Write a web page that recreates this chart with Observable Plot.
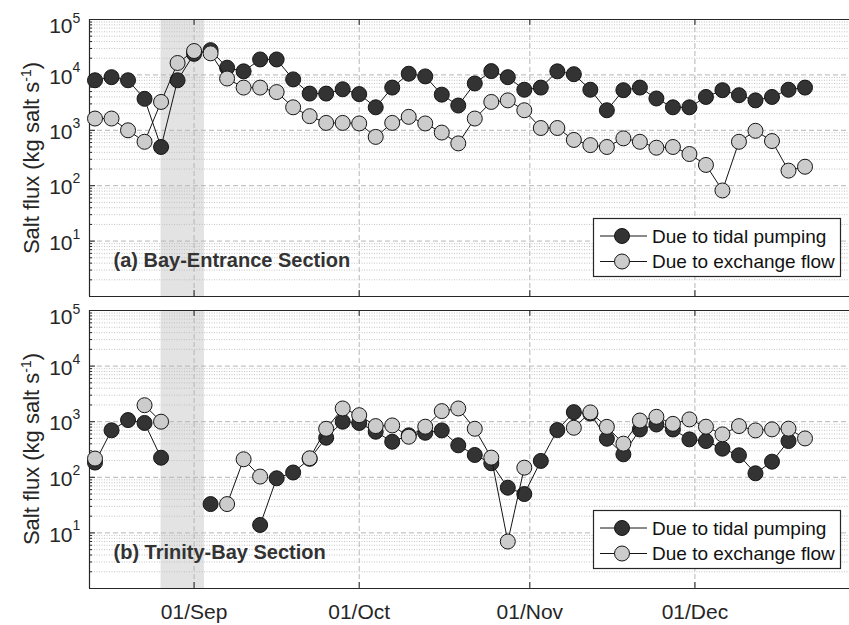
<!DOCTYPE html>
<html><head><meta charset="utf-8">
<script src="https://cdn.jsdelivr.net/npm/d3@7"></script>
<script src="https://cdn.jsdelivr.net/npm/@observablehq/plot@0.6"></script>
<style>
body{margin:0;background:#fff;}
#chart svg{display:block;}
</style></head><body><div id="chart"></div>
<script>
// ---- data ----
const dates = ["2017-08-14","2017-08-17","2017-08-20","2017-08-23","2017-08-26","2017-08-29",
  "2017-09-01","2017-09-04","2017-09-07","2017-09-10","2017-09-13","2017-09-16","2017-09-19","2017-09-22","2017-09-25","2017-09-28",
  "2017-10-01","2017-10-04","2017-10-07","2017-10-10","2017-10-13","2017-10-16","2017-10-19","2017-10-22","2017-10-25","2017-10-28","2017-10-31",
  "2017-11-03","2017-11-06","2017-11-09","2017-11-12","2017-11-15","2017-11-18","2017-11-21","2017-11-24","2017-11-27","2017-11-30",
  "2017-12-03","2017-12-06","2017-12-09","2017-12-12","2017-12-15","2017-12-18","2017-12-21"];
const bayTidal = [8000,9100,8000,3700,500,8000,24000,28000,13500,11600,19000,19000,8300,4600,4600,5500,
  4500,2600,5900,10500,9400,4400,2800,7000,11700,9100,5400,5900,11600,10300,5400,2300,5300,5900,3750,2600,2600,
  4000,5300,4300,3470,4000,5400,5900];
const bayExchange = [1630,1630,1000,620,3250,16400,27000,24500,8600,5900,5900,4900,2600,1800,1360,1360,
  1330,760,1360,1750,1330,910,580,1630,3250,3470,2300,1100,1100,670,540,500,715,620,485,500,373,
  237,82,620,980,640,187,220];
const trinityTidal = [184,700,1070,950,225,null,null,33,null,null,13.9,96,122,215,515,1000,
  950,660,436,568,632,697,376,252,179,65,50,197,707,1486,1400,494,259,725,890,725,481,
  449,327,249,118,191,449,null];
const trinityExchange = [217,null,null,1980,1000,null,null,null,33,211,103,null,null,220,746,1730,
  1310,834,857,537,813,1550,1730,746,226,7,149,null,null,778,1470,808,403,1050,1225,915,1100,
  813,592,834,697,728,750,500];
const monthTicks = ["2017-09-01","2017-10-01","2017-11-01","2017-12-01"];
const decadeTicks = [10,100,1000,10000,100000];
const seriesNames = ["Due to tidal pumping","Due to exchange flow"];
const panelLabels = ["(a) Bay-Entrance Section","(b) Trinity-Bay Section"];
const harvey = [{start:"2017-08-26T00:00Z", end:"2017-09-02T21:00Z"}];

// ---- styling ----
const FONT = "'Liberation Sans', Arial, Helvetica, sans-serif";
const darkFill = "#333333", lightFill = "#cccccc", edge = "#151515", axisCol = "#262626";
const W = 849, ML = 89;
const xDomain = [new Date("2017-08-13T00:00Z"), new Date("2017-12-29T02:00Z")];
const parse = d3.utcParse("%Y-%m-%d");
const fmt = d3.utcFormat("%d/%b");

function rows(vals){ return dates.map((d,i)=>({date: parse(d), v: vals[i]})); }

function panel({tidal, exchange, label, height, marginTop, marginBottom, xLabels}) {
  const tdata = rows(tidal), edata = rows(exchange);
  const logTicks = d3.scaleLog().domain([1,1e5]).ticks();
  const minor = logTicks.filter(v => !decadeTicks.includes(v) && v !== 1);
  const months = monthTicks.map(parse);
  const plotW = W - ML, plotH = height - marginTop - marginBottom;
  const inner = decadeTicks.slice(0,4);
  const marks = [
    Plot.rect(harvey, {x1: d=>new Date(d.start), x2: d=>new Date(d.end), fill: "#e3e3e3"}),
    Plot.ruleY(minor, {stroke:"#bdbdbd", strokeWidth: 0.9, strokeDasharray: "1,1.5"}),
    Plot.ruleY(inner, {stroke: "#b5b5b5", strokeWidth: 1, strokeDasharray:"5,3"}),
    Plot.ruleX(months, {stroke:"#b5b5b5", strokeWidth: 1, strokeDasharray:"5,3"}),
    Plot.ruleX([xDomain[0]], {stroke: axisCol, strokeWidth: 1.2}),
    Plot.ruleY([1, 1e5], {stroke: axisCol, strokeWidth: 1.2}),
    Plot.tickY(decadeTicks, {stroke: axisCol, insetRight: plotW - 6}),
    Plot.tickY(minor, {stroke: axisCol, insetRight: plotW - 3}),
    Plot.tickX(months, {stroke: axisCol, insetTop: plotH - 6}),
    Plot.tickX(months, {stroke: axisCol, insetBottom: plotH - 6}),
    Plot.text(inner, {y: d=>d, text: ()=>"10", frameAnchor:"left", textAnchor:"end", dx:-17, dy:2, fontSize:21, fill:axisCol, lineAnchor:"middle"}),
    Plot.text(inner, {y: d=>d, text: d=>String(Math.round(Math.log10(d))), frameAnchor:"left", textAnchor:"start", dx:-17, dy:-7, fontSize:14, fill:axisCol, lineAnchor:"middle"}),
    Plot.text([1e5], {y: d=>d, text: ()=>"10", frameAnchor:"left", textAnchor:"end", dx:-17, dy:6.5, fontSize:21, fill:axisCol, lineAnchor:"middle"}),
    Plot.text([1e5], {y: d=>d, text: ()=>"5", frameAnchor:"left", textAnchor:"start", dx:-17, dy:-1, fontSize:14, fill:axisCol, lineAnchor:"middle"}),
    Plot.text([label], {text: d=>d, frameAnchor:"bottom-left", dx:24, dy:-36, fontSize:20, fontWeight:"bold", fill:"#333", textAnchor:"start", lineAnchor:"middle"}),
    Plot.line(tdata, {x:"date", y:"v", stroke: edge, strokeWidth: 1}),
    Plot.dot(tdata, {x:"date", y:"v", r: 7.5, fill: darkFill, stroke: edge, strokeWidth: 1}),
    Plot.line(edata, {x:"date", y:"v", stroke: edge, strokeWidth: 1}),
    Plot.dot(edata, {x:"date", y:"v", r: 7.5, fill: lightFill, stroke: edge, strokeWidth: 1})
  ];
  if (xLabels) marks.push(Plot.text(months, {x: d=>d, text: d=>fmt(d), frameAnchor:"bottom", dy: 24, fontSize: 21, fill: axisCol, lineAnchor:"middle"}));
  return Plot.plot({
    width: W, height, marginLeft: ML, marginRight: 0, marginTop, marginBottom,
    style: {fontFamily: FONT, background: "white", overflow: "visible"},
    x: {type: "utc", domain: xDomain, axis: null},
    y: {type: "log", domain: [1, 1e5], axis: null},
    marks
  });
}

function addYLabel(svg, cy) {
  const t = d3.select(svg).append("text")
    .attr("transform", `translate(39,${cy}) rotate(-90)`)
    .attr("text-anchor","middle").attr("font-family", FONT).attr("font-size", 22).attr("fill", axisCol);
  t.append("tspan").text("Salt flux (kg salt s");
  t.append("tspan").attr("font-size", 14).attr("dy", "-0.6em").text("-1");
  t.append("tspan").attr("dy", "0.38em").text(")");
}

function addLegend(svg, y0) {
  const g = d3.select(svg).append("g").attr("font-family", FONT).attr("font-size", 19)
    .attr("fill", "#111").attr("text-anchor", "start");
  g.append("rect").attr("x", 593.5).attr("y", y0 + 0.5).attr("width", 247).attr("height", 58)
    .attr("fill", "white").attr("stroke", axisCol).attr("stroke-width", 1.2);
  const fills = [darkFill, lightFill];
  seriesNames.forEach((name, i) => {
    const y = y0 + 18 + i * 25.5;
    g.append("line").attr("x1", 600).attr("x2", 647).attr("y1", y).attr("y2", y).attr("stroke", edge);
    g.append("circle").attr("cx", 622).attr("cy", y).attr("r", 7.5).attr("fill", fills[i]).attr("stroke", edge);
    g.append("text").attr("x", 652).attr("y", y).attr("dy", "0.35em").attr("text-anchor", "start").text(name);
  });
}

const topPanel = panel({tidal: bayTidal, exchange: bayExchange, label: panelLabels[0], height: 300, marginTop: 19, marginBottom: 4, xLabels: false});
addYLabel(topPanel, 158);
addLegend(topPanel, 218);
const bottomPanel = panel({tidal: trinityTidal, exchange: trinityExchange, label: panelLabels[1], height: 325, marginTop: 10, marginBottom: 37, xLabels: true});
addYLabel(bottomPanel, 149);
addLegend(bottomPanel, 210);
document.getElementById("chart").append(topPanel, bottomPanel);
</script></body></html>
